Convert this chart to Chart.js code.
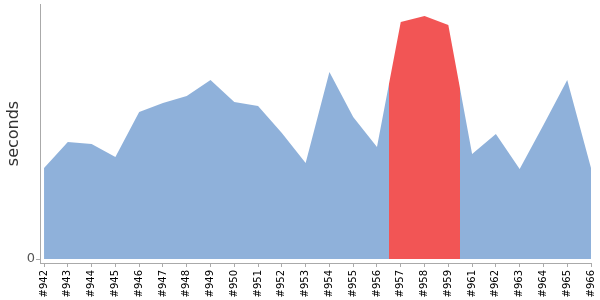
<!DOCTYPE html>
<html>
<head>
<meta charset="utf-8">
<script src="https://cdn.jsdelivr.net/npm/chart.js@4/dist/chart.umd.min.js"></script>
<style>
  html, body { margin: 0; padding: 0; background: #fff; }
  #wrap { width: 600px; height: 300px; }
</style>
</head>
<body>
<div id="wrap"><canvas id="chart"></canvas></div>
<script>
// build numbers on the x axis (no #960 in the source)
const BUILDS = ['#942', '#943', '#944', '#945', '#946', '#947', '#948', '#949', '#950',
  '#951', '#952', '#953', '#954', '#955', '#956', '#957', '#958', '#959',
  '#961', '#962', '#963', '#964', '#965', '#966'];
// duration per build (no scale shown, read relative to the plot height)
const SECONDS = [91, 117, 115, 102, 147, 156, 163, 179, 157, 153, 126, 96,
  187, 142, 112, 237, 243, 234, 105, 125, 90, 134, 179, 91];
// builds drawn in red
const SLOW_FROM = '#957';
const SLOW_TO = '#959';
const Y_TICKS = [0];

const BLUE = '#8fb1da';
const RED = '#f25555';
const AXIS = '#aaaaaa';
const FONT = '"DejaVu Sans", Verdana, sans-serif';

/* blue area, red between the half-steps around the slow builds */
function areaColor(c) {
  const chart = c.chart;
  const area = chart.chartArea;
  const xs = chart.scales && chart.scales.x;
  if (!area || !xs) return BLUE;
  const x0 = xs.getPixelForValue(BUILDS.indexOf(SLOW_FROM) - 0.5);
  const x1 = xs.getPixelForValue(BUILDS.indexOf(SLOW_TO) + 0.5);
  const w = area.right - area.left;
  const a = (x0 - area.left) / w;
  const b = (x1 - area.left) / w;
  const g = chart.ctx.createLinearGradient(area.left, 0, area.right, 0);
  g.addColorStop(0, BLUE);
  g.addColorStop(a, BLUE);
  g.addColorStop(a, RED);
  g.addColorStop(b, RED);
  g.addColorStop(b, BLUE);
  g.addColorStop(1, BLUE);
  return g;
}

new Chart(document.getElementById('chart'), {
  type: 'line',
  data: {
    datasets: [{
      data: SECONDS.map((v, i) => ({ x: i, y: v })),
      fill: 'origin',
      backgroundColor: areaColor,
      borderWidth: 0,
      pointRadius: 0,
      tension: 0,
    }]
  },
  options: {
    responsive: true, maintainAspectRatio: false,
    animation: false,
    layout: { padding: { top: 4, right: 9, left: 0, bottom: 0 } },
    plugins: { legend: { display: false }, tooltip: { enabled: false } },
    scales: {
      x: {
        type: 'linear',
        min: -0.17, max: BUILDS.length - 1,
        afterBuildTicks: (s) => { s.ticks = BUILDS.map((_, i) => ({ value: i })); },
        afterFit: (s) => { s.height = 37; s.paddingLeft = 0; s.paddingRight = 0; },
        border: { display: true, color: AXIS, width: 1 },
        grid: { display: true, drawOnChartArea: false, drawTicks: true, tickLength: 4, color: AXIS },
        ticks: {
          autoSkip: false, minRotation: 90, maxRotation: 90, padding: 3,
          color: '#000', font: { family: FONT, size: 10 },
          callback: (v) => BUILDS[v],
        }
      },
      y: {
        min: -4, max: 255,
        afterBuildTicks: (s) => { s.ticks = Y_TICKS.map(v => ({ value: v })); },
        afterFit: (s) => { s.width = 40; s.paddingTop = 0; s.paddingBottom = 0; },
        border: { display: true, color: AXIS, width: 1 },
        grid: { display: true, drawOnChartArea: false, drawTicks: true, tickLength: 4, color: AXIS },
        ticks: { padding: 1, color: '#555', font: { family: FONT, size: 13 } },
        title: {
          display: true, text: 'seconds', color: '#333',
          font: { family: FONT, size: 16 }, padding: { top: 4, bottom: 0 }
        }
      }
    }
  }
});
</script>
</body>
</html>
